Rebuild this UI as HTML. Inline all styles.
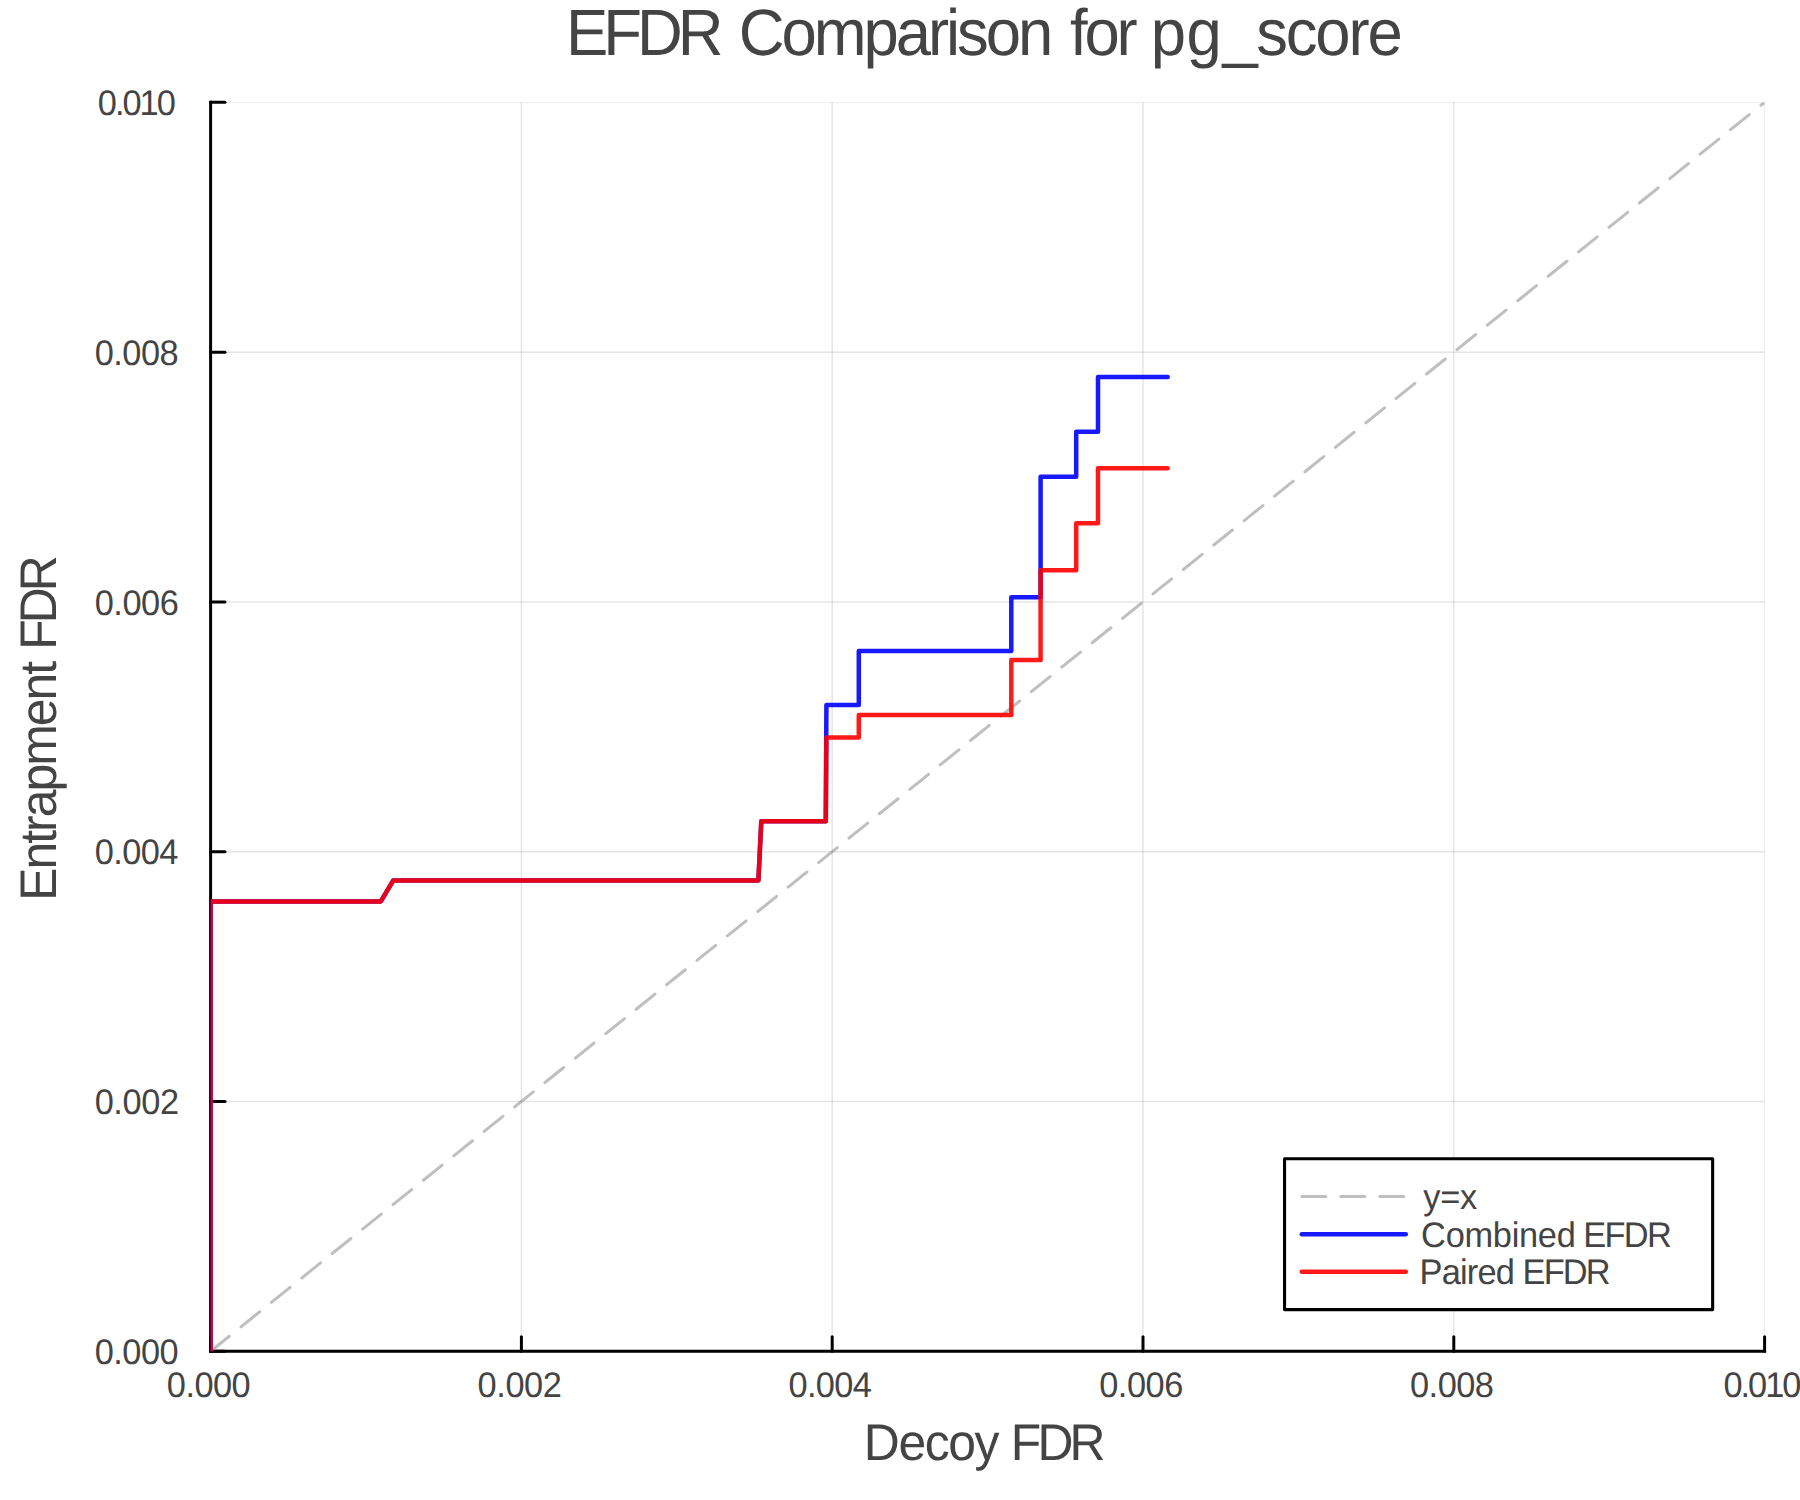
<!DOCTYPE html>
<html lang="en"><head><meta charset="utf-8"><title>EFDR Comparison for pg_score</title>
<style>html,body{margin:0;padding:0;background:#fff;}body{width:1800px;height:1500px;overflow:hidden;}svg{display:block;}text{font-family:"Liberation Sans", Arial, Helvetica, sans-serif;fill:#444444;text-rendering:geometricPrecision;}</style>
</head><body>
<svg width="1800" height="1500" viewBox="0 0 1800 1500">
<rect x="0" y="0" width="1800" height="1500" fill="#ffffff"/>
<defs><clipPath id="pc"><rect x="210.60" y="102.35" width="1554.00" height="1248.90"/></clipPath></defs>
<g clip-path="url(#pc)" stroke="#000000" stroke-opacity="0.1" stroke-width="1.5" fill="none">
<line x1="521.40" y1="102.35" x2="521.40" y2="1351.25"/>
<line x1="832.20" y1="102.35" x2="832.20" y2="1351.25"/>
<line x1="1143.00" y1="102.35" x2="1143.00" y2="1351.25"/>
<line x1="1453.80" y1="102.35" x2="1453.80" y2="1351.25"/>
<line x1="1764.60" y1="102.35" x2="1764.60" y2="1351.25"/>
<line x1="210.60" y1="1101.47" x2="1764.60" y2="1101.47"/>
<line x1="210.60" y1="851.69" x2="1764.60" y2="851.69"/>
<line x1="210.60" y1="601.91" x2="1764.60" y2="601.91"/>
<line x1="210.60" y1="352.13" x2="1764.60" y2="352.13"/>
<line x1="210.60" y1="102.35" x2="1764.60" y2="102.35"/>
</g>
<g stroke="#000000" stroke-width="3" fill="none" stroke-linecap="round">
<path d="M210.60 102.35 V1351.25 H1764.60" stroke-linejoin="miter" stroke-linecap="square"/>
<line x1="210.60" y1="1351.25" x2="210.60" y2="1336.85"/>
<line x1="521.40" y1="1351.25" x2="521.40" y2="1336.85"/>
<line x1="832.20" y1="1351.25" x2="832.20" y2="1336.85"/>
<line x1="1143.00" y1="1351.25" x2="1143.00" y2="1336.85"/>
<line x1="1453.80" y1="1351.25" x2="1453.80" y2="1336.85"/>
<line x1="1764.60" y1="1351.25" x2="1764.60" y2="1336.85"/>
<line x1="210.60" y1="1351.25" x2="225.00" y2="1351.25"/>
<line x1="210.60" y1="1101.47" x2="225.00" y2="1101.47"/>
<line x1="210.60" y1="851.69" x2="225.00" y2="851.69"/>
<line x1="210.60" y1="601.91" x2="225.00" y2="601.91"/>
<line x1="210.60" y1="352.13" x2="225.00" y2="352.13"/>
<line x1="210.60" y1="102.35" x2="225.00" y2="102.35"/>
</g>
<g clip-path="url(#pc)" fill="none" stroke-linecap="round" stroke-linejoin="round">
<line x1="210.60" y1="1351.25" x2="1764.60" y2="102.35" stroke="#808080" stroke-opacity="0.5" stroke-width="3" stroke-dasharray="24 15"/>
<polyline points="210.6,1351.1 210.6,901.4 380.8,901.4 393.3,880.4 758.4,880.4 761.3,821.2 825.8,821.2 826.4,704.9 858.8,704.9 858.8,650.9 1011.3,650.9 1011.3,597.3 1040.6,597.3 1040.6,476.7 1076.2,476.7 1076.2,431.7 1098.0,431.7 1098.0,377.0 1167.7,377.0" stroke="#0000ff" stroke-opacity="0.9" stroke-width="4.5"/>
<polyline points="210.6,1351.1 210.6,901.4 380.8,901.4 393.3,880.4 758.4,880.4 761.3,821.2 825.8,821.2 826.4,737.5 858.8,737.5 858.8,715.0 1011.3,715.0 1011.3,660.0 1040.6,660.0 1040.6,570.2 1076.2,570.2 1076.2,523.3 1098.0,523.3 1098.0,468.3 1167.7,468.3" stroke="#ff0000" stroke-opacity="0.9" stroke-width="4.5"/>
</g>
<rect x="1284.55" y="1158.7" width="428.1" height="150.9" fill="#ffffff" stroke="#000000" stroke-width="3.1" stroke-linejoin="round"/>
<g fill="none" stroke-linecap="round">
<line x1="1301.8" y1="1196.4" x2="1405.8" y2="1196.4" stroke="#808080" stroke-opacity="0.5" stroke-width="3" stroke-dasharray="24 15"/>
<line x1="1301.8" y1="1234.25" x2="1405.75" y2="1234.25" stroke="#0000ff" stroke-opacity="0.9" stroke-width="4.5"/>
<line x1="1301.8" y1="1271.85" x2="1405.75" y2="1271.85" stroke="#ff0000" stroke-opacity="0.9" stroke-width="4.5"/>
</g>
<text transform="translate(0,54.80) scale(0.96760,1.00000)" y="0" font-size="65.54" xml:space="preserve"><tspan x="585.0" letter-spacing="-5.17">EFDR </tspan><tspan x="763.6" letter-spacing="-3.16">Comparison </tspan><tspan x="1105.9" letter-spacing="-3.29">for </tspan><tspan x="1189.4" letter-spacing="0.31">pg</tspan><tspan x="1263.5" letter-spacing="0.00">_</tspan><tspan x="1298.3" letter-spacing="-2.23">score</tspan></text>
<text transform="translate(0,1460.00) scale(0.96760,1.00000)" y="0" font-size="51.52" xml:space="preserve"><tspan x="892.8" letter-spacing="-1.45">Decoy </tspan><tspan x="1044.7" letter-spacing="-4.01">FDR</tspan></text>
<text transform="translate(56.00,896.70) rotate(-90) scale(0.96760,1.00000)" y="0" font-size="51.52" xml:space="preserve"><tspan x="-4.3" letter-spacing="-2.03">Entrapment </tspan><tspan x="255.3" letter-spacing="-4.17">FDR</tspan></text>
<text transform="translate(0,1363.95) scale(0.96760,1.00000)" y="0" font-size="35.53" xml:space="preserve"><tspan x="97.8" letter-spacing="-0.51">0.000</tspan></text>
<text transform="translate(0,1114.17) scale(0.96760,1.00000)" y="0" font-size="35.53" xml:space="preserve"><tspan x="97.8" letter-spacing="-0.42">0.002</tspan></text>
<text transform="translate(0,864.39) scale(0.96760,1.00000)" y="0" font-size="35.53" xml:space="preserve"><tspan x="97.8" letter-spacing="-0.60">0.004</tspan></text>
<text transform="translate(0,614.61) scale(0.96760,1.00000)" y="0" font-size="35.53" xml:space="preserve"><tspan x="97.8" letter-spacing="-0.47">0.006</tspan></text>
<text transform="translate(0,364.83) scale(0.96760,1.00000)" y="0" font-size="35.53" xml:space="preserve"><tspan x="97.8" letter-spacing="-0.49">0.008</tspan></text>
<text transform="translate(0,115.05) scale(0.96760,1.00000)" y="0" font-size="35.53" xml:space="preserve"><tspan x="101.1" letter-spacing="-2.06">0.010</tspan></text>
<text transform="translate(0,1397.00) scale(0.96760,1.00000)" y="0" font-size="35.53" xml:space="preserve"><tspan x="172.4" letter-spacing="-0.54">0.000</tspan></text>
<text transform="translate(0,1397.00) scale(0.96760,1.00000)" y="0" font-size="35.53" xml:space="preserve"><tspan x="493.6" letter-spacing="-0.45">0.002</tspan></text>
<text transform="translate(0,1397.00) scale(0.96760,1.00000)" y="0" font-size="35.53" xml:space="preserve"><tspan x="814.8" letter-spacing="-0.63">0.004</tspan></text>
<text transform="translate(0,1397.00) scale(0.96760,1.00000)" y="0" font-size="35.53" xml:space="preserve"><tspan x="1136.0" letter-spacing="-0.49">0.006</tspan></text>
<text transform="translate(0,1397.00) scale(0.96760,1.00000)" y="0" font-size="35.53" xml:space="preserve"><tspan x="1457.2" letter-spacing="-0.52">0.008</tspan></text>
<text transform="translate(0,1397.00) scale(0.96760,1.00000)" y="0" font-size="35.53" xml:space="preserve"><tspan x="1781.1" letter-spacing="-2.06">0.010</tspan></text>
<text transform="translate(0,1208.90) scale(0.96760,1.00000)" y="0" font-size="35.53" xml:space="preserve"><tspan x="1470.8" letter-spacing="-0.14">y=x</tspan></text>
<text transform="translate(0,1246.70) scale(0.96760,1.00000)" y="0" font-size="35.53" xml:space="preserve"><tspan x="1468.7" letter-spacing="-0.29">Combined </tspan><tspan x="1636.4" letter-spacing="-1.80">EFDR</tspan></text>
<text transform="translate(0,1283.90) scale(0.96760,1.00000)" y="0" font-size="35.53" xml:space="preserve"><tspan x="1467.1" letter-spacing="-0.82">Paired </tspan><tspan x="1573.5" letter-spacing="-1.87">EFDR</tspan></text>
</svg>
</body></html>
